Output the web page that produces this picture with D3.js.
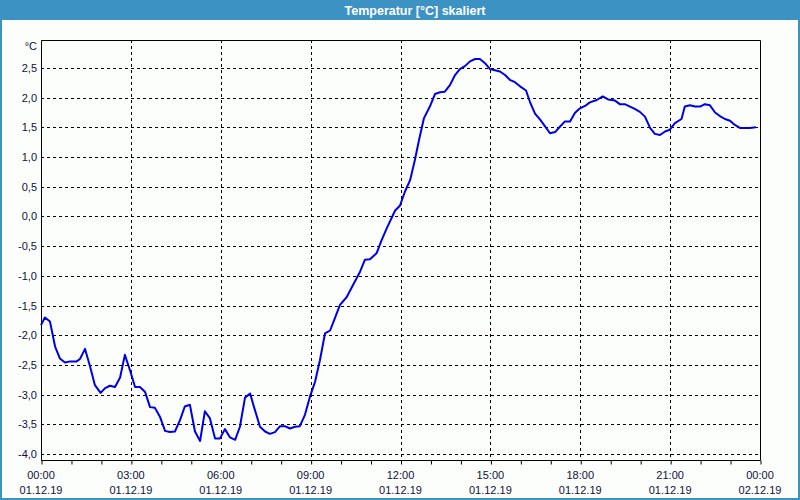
<!DOCTYPE html>
<html><head><meta charset="utf-8">
<script src="https://cdn.jsdelivr.net/npm/d3@7"></script>
<style>
html,body{margin:0;padding:0;background:#fcfefc;}
svg{display:block;}
</style></head>
<body>
<svg id="c" width="800" height="500"></svg>
<script>
const title = "Temperatur [°C] skaliert";
const unit = "°C";
const hours = [0,0.13,0.3,0.47,0.63,0.8,0.97,1.19,1.3,1.47,1.64,1.8,1.99,2.14,2.3,2.47,2.64,2.8,2.97,3.14,3.3,3.47,3.64,3.8,3.97,4.14,4.3,4.47,4.64,4.8,4.97,5.14,5.31,5.47,5.64,5.81,5.97,6.14,6.31,6.48,6.64,6.81,6.98,7.14,7.31,7.48,7.64,7.81,7.98,8.14,8.31,8.48,8.64,8.81,8.98,9.15,9.31,9.48,9.65,9.81,9.98,10.2,10.42,10.65,10.81,10.98,11.2,11.37,11.54,11.82,11.98,12.15,12.32,12.48,12.62,12.78,12.98,13.15,13.32,13.48,13.65,13.82,13.98,14.15,14.32,14.49,14.65,14.82,14.99,15.15,15.32,15.49,15.65,15.82,15.99,16.19,16.32,16.49,16.66,16.82,16.99,17.16,17.32,17.49,17.66,17.82,17.99,18.16,18.32,18.55,18.75,18.93,19.16,19.32,19.49,19.66,19.82,19.99,20.16,20.33,20.49,20.66,20.83,20.99,21.16,21.38,21.49,21.66,21.83,22.0,22.16,22.33,22.5,22.66,22.83,23.0,23.16,23.33,23.5,23.66,23.86];
const temps = [-1.83,-1.70,-1.77,-2.19,-2.39,-2.46,-2.44,-2.44,-2.40,-2.23,-2.53,-2.84,-2.97,-2.89,-2.85,-2.87,-2.71,-2.33,-2.59,-2.87,-2.87,-2.95,-3.21,-3.22,-3.37,-3.61,-3.63,-3.62,-3.43,-3.20,-3.17,-3.62,-3.78,-3.28,-3.40,-3.74,-3.74,-3.58,-3.72,-3.76,-3.54,-3.05,-2.98,-3.26,-3.54,-3.62,-3.66,-3.63,-3.53,-3.53,-3.57,-3.54,-3.53,-3.34,-3.03,-2.78,-2.42,-1.97,-1.92,-1.71,-1.49,-1.36,-1.15,-0.93,-0.73,-0.72,-0.62,-0.40,-0.20,0.10,0.18,0.42,0.61,0.95,1.29,1.65,1.85,2.06,2.09,2.10,2.21,2.38,2.48,2.53,2.61,2.65,2.65,2.58,2.48,2.46,2.44,2.38,2.30,2.26,2.19,2.12,1.93,1.73,1.63,1.52,1.40,1.42,1.51,1.60,1.60,1.74,1.82,1.86,1.92,1.96,2.02,1.97,1.95,1.89,1.89,1.85,1.81,1.76,1.68,1.49,1.39,1.37,1.43,1.46,1.57,1.64,1.85,1.87,1.85,1.85,1.89,1.87,1.75,1.69,1.64,1.61,1.54,1.49,1.49,1.49,1.50];
const yTicks = [2.5,2.0,1.5,1.0,0.5,0.0,-0.5,-1.0,-1.5,-2.0,-2.5,-3.0,-3.5,-4.0];
const xTickHours = [0,3,6,9,12,15,18,21,24];
const xTimeLabels = ["00:00","03:00","06:00","09:00","12:00","15:00","18:00","21:00","00:00"];
const xDateLabels = ["01.12.19","01.12.19","01.12.19","01.12.19","01.12.19","01.12.19","01.12.19","01.12.19","02.12.19"];

const svg = d3.select("#c");
const W = 800, H = 500;
const L = 41, R = 760, T = 40, B = 460;
const font = "'Liberation Sans', Arial, sans-serif";

// window frame
svg.append("rect").attr("x",0).attr("y",0).attr("width",W).attr("height",H).attr("fill","#fcfefc");
svg.append("rect").attr("x",0).attr("y",0).attr("width",W).attr("height",20).attr("fill","#3d92c4");
svg.append("rect").attr("x",1).attr("y",1).attr("width",W-2).attr("height",H-2).attr("fill","none").attr("stroke","#3d92c4").attr("stroke-width",2);
svg.append("text").attr("x",415).attr("y",15).attr("text-anchor","middle")
  .attr("font-family",font).attr("font-weight","bold").attr("font-size",12.5).attr("fill","#ffffff").text(title);

const x = d3.scaleLinear().domain([0,24]).range([L,R]);
const y = d3.scaleLinear().domain([-4.1,2.97]).range([B,T]);

// grid
const g = svg.append("g");
g.selectAll(".hg").data(yTicks).join("line")
  .attr("x1",L).attr("x2",R).attr("y1",d=>Math.round(y(d))+0.5).attr("y2",d=>Math.round(y(d))+0.5)
  .attr("stroke","#000").attr("stroke-width",1).attr("stroke-dasharray","3,3");
g.selectAll(".vg").data(xTickHours.slice(1,-1)).join("line")
  .attr("x1",d=>Math.round(x(d))+0.5).attr("x2",d=>Math.round(x(d))+0.5).attr("y1",T).attr("y2",B)
  .attr("stroke","#000").attr("stroke-width",1).attr("stroke-dasharray","3,3");

// frame
svg.append("path").attr("d",`M${L+0.5},${B+0.5}V${T+0.5}H${R+0.5}V${B+0.5}`).attr("fill","none").attr("stroke","#000").attr("stroke-width",1);

// x axis with hourly ticks
const xAxis = d3.axisBottom(x).tickValues(d3.range(0,25,1)).tickSize(4).tickFormat("");
const ax = svg.append("g").attr("transform",`translate(0.5,${B+0.5})`).call(xAxis);
ax.select(".domain").attr("stroke","#000").attr("d",`M${L},0H${R}`);
ax.selectAll(".tick line").attr("stroke","#000");

// x labels
const xl = svg.append("g").attr("font-family",font).attr("font-size",11).attr("fill","#10103a").attr("text-anchor","middle");
xl.selectAll(".t").data(xTickHours).join("text").attr("x",d=>x(d)).attr("y",479).text((d,i)=>xTimeLabels[i]);
xl.selectAll(".d").data(xTickHours).join("text").attr("x",d=>x(d)).attr("y",494).text((d,i)=>xDateLabels[i]);

// y labels
const yl = svg.append("g").attr("font-family",font).attr("font-size",11).attr("fill","#10103a").attr("text-anchor","end");
yl.selectAll("text").data(yTicks).join("text").attr("x",37).attr("y",d=>y(d)+4).text(d=>d3.format(".1f")(d).replace(".",",").replace("−","-"));
svg.append("text").attr("x",37).attr("y",50).attr("text-anchor","end").attr("font-family",font).attr("font-size",11).attr("fill","#10103a").text(unit);

// line
const line = d3.line().x((d,i)=>x(hours[i])).y(d=>y(d));
svg.append("path").datum(temps).attr("d",line).attr("fill","none").attr("stroke","#0000e6").attr("stroke-width",2).attr("stroke-linejoin","round");
</script>
</body></html>
